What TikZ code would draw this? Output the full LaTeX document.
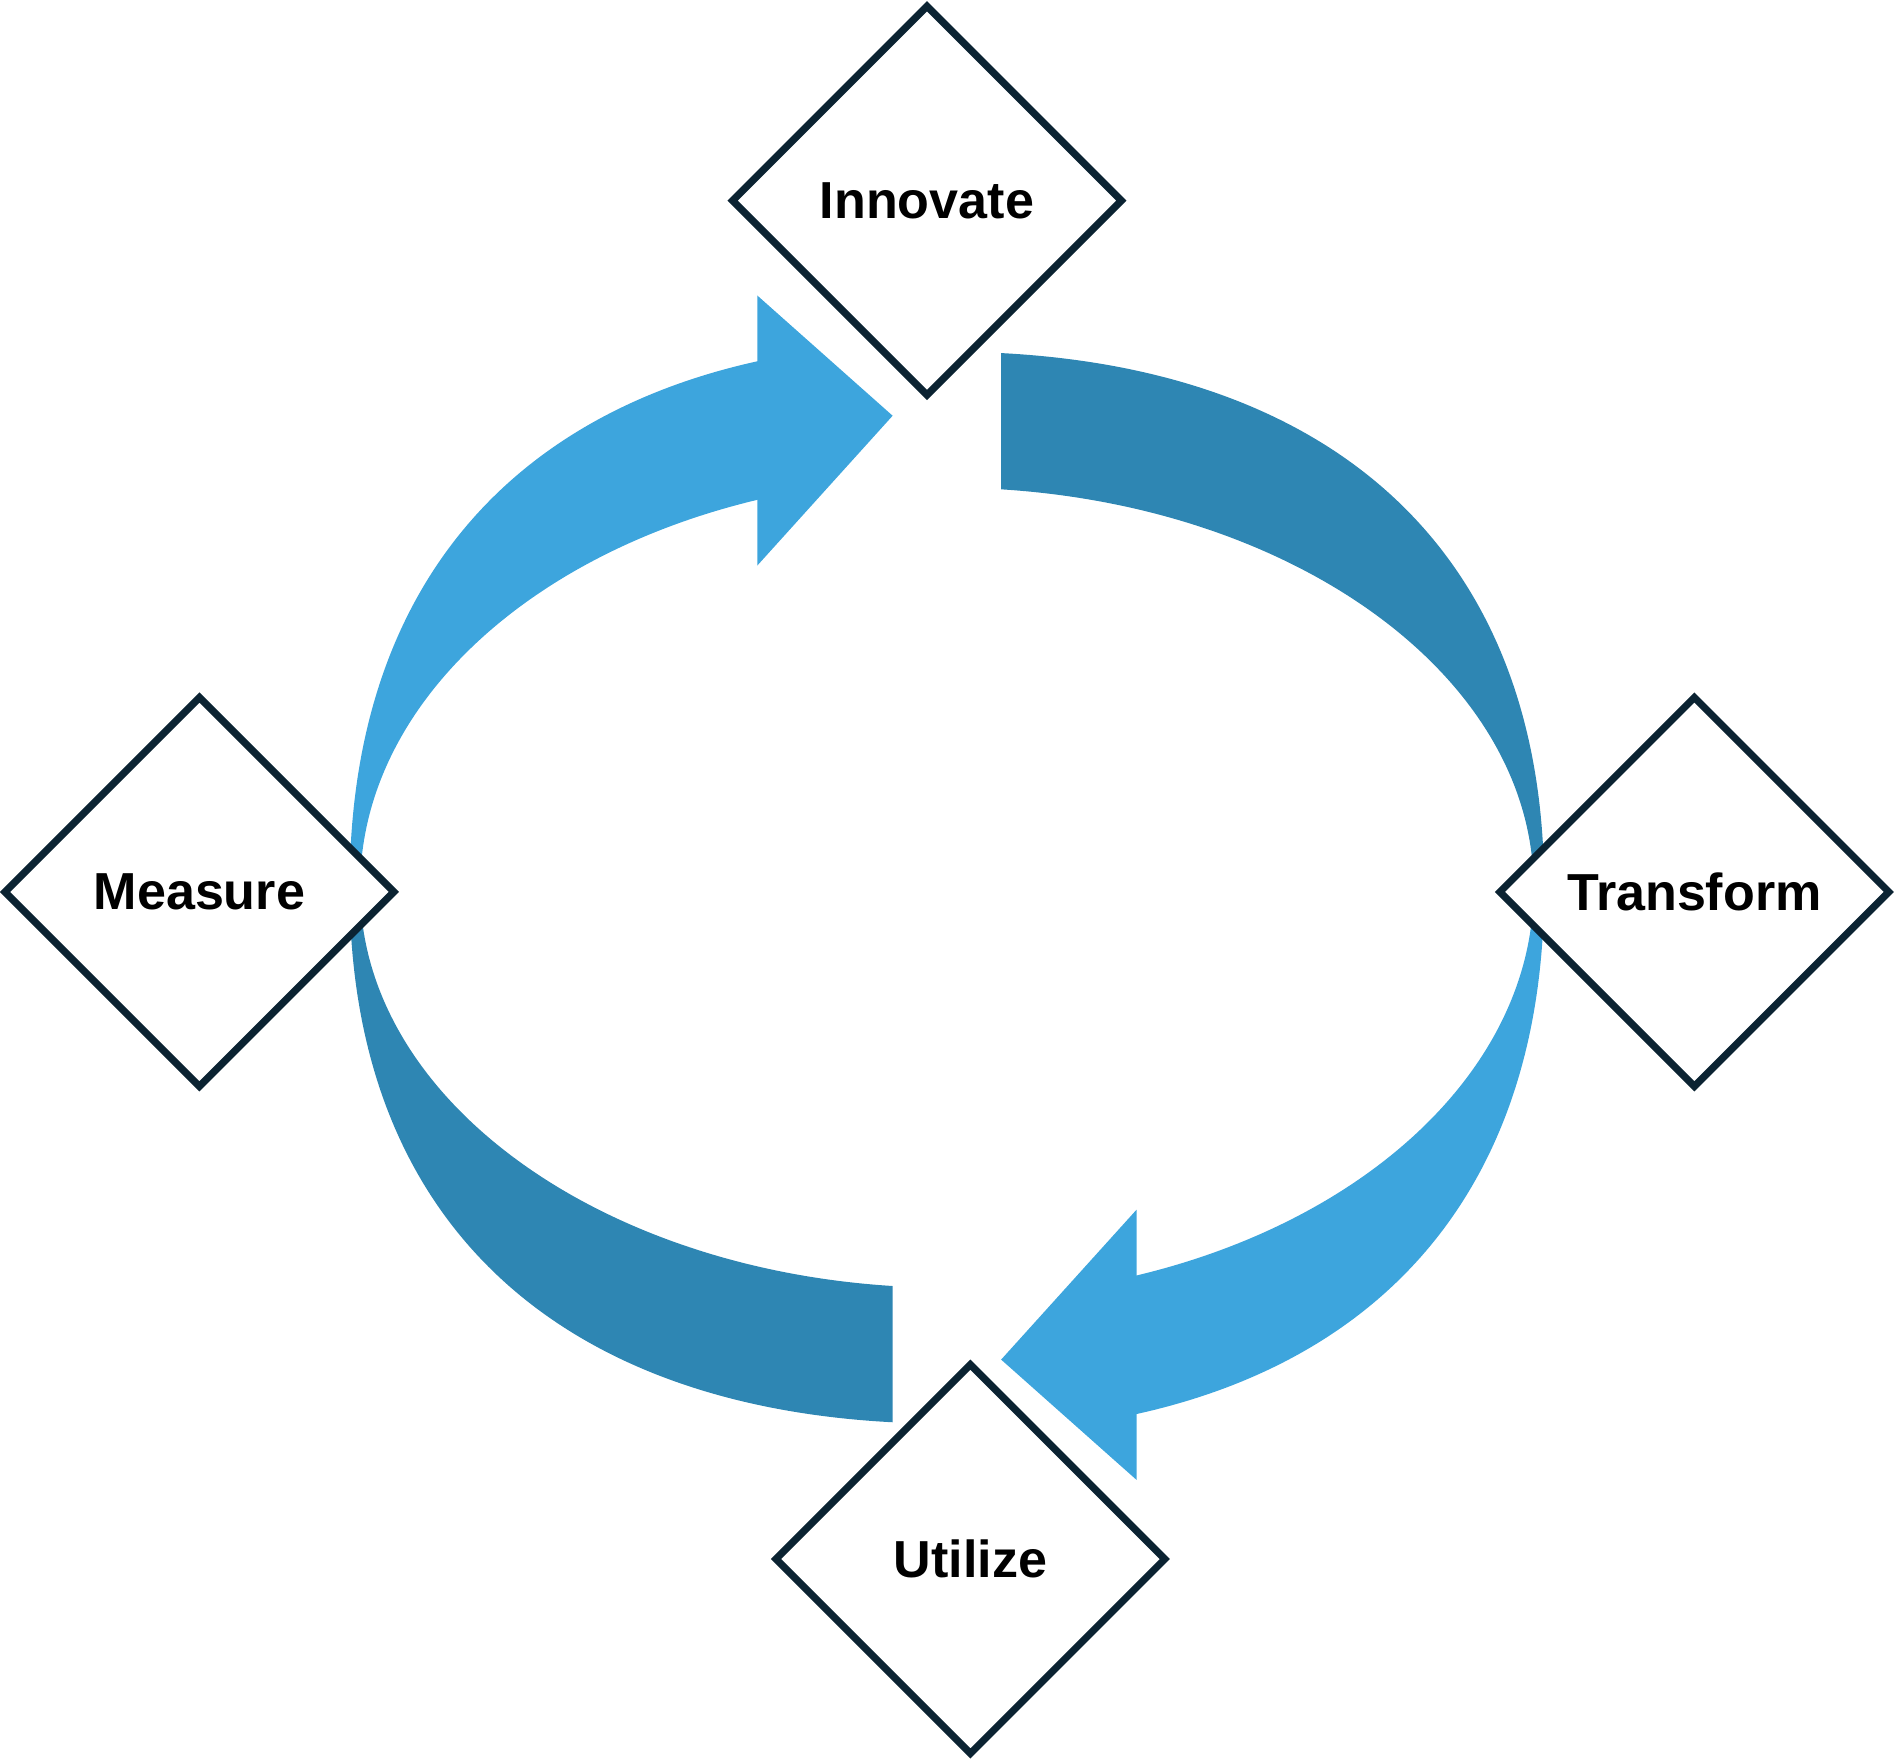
\documentclass[tikz,border=0pt]{standalone}
\usepackage{fontspec}
\setmainfont{Liberation Sans}
\usetikzlibrary{shapes.geometric}
\definecolor{lightarc}{HTML}{3DA5DD}
\definecolor{darkarc}{HTML}{2E86B3}
\definecolor{edgecol}{HTML}{0B2332}
\begin{document}
\begin{tikzpicture}[x=0.01cm,y=0.01cm,
  stage/.style={shape=diamond, draw=edgecol, line width=1.7pt, fill=white,
    minimum width=3.24cm, minimum height=3.24cm, inner sep=0pt, aspect=1,
    font=\fontsize{12.25}{14}\selectfont\bfseries, text=black}]
\useasboundingbox (-783.5,-722.5) rectangle (784.5,734.5);
% two arcs, drawn twice (second time rotated by 180 degrees)
\foreach \r in {0,180}{
\begin{scope}[rotate=\r]
  % dark arc (no head)
  \begin{scope}
    \clip (44.8,-20) rectangle (600,500);
    \fill[darkarc] (0,443.5) .. controls (306.4,443.5) and (494.2,288.3) .. (494.2,0)
      -- (485.5,0) .. controls (485.5,182.8) and (268.1,331) .. (0,331) -- cycle;
  \end{scope}
  % light arc with head
  \begin{scope}
    \clip (-600,-20) rectangle (-155.9,500);
    \fill[lightarc] (0,451.5) .. controls (-306.4,451.5) and (-494.2,293.5) .. (-494.2,0)
      -- (-485.5,0) .. controls (-485.5,187.2) and (-268.1,339) .. (0,339) -- cycle;
  \end{scope}
  \fill[lightarc] (-156.9,490) -- (-44.9,390.5) -- (-156.9,266.5) -- cycle;
\end{scope}
}
\node[stage] (innovate) at (-16.5,568.5) {Innovate};
\node[stage] (measure) at (-618.5,-3.5) {Measure};
\node[stage] (transform) at (618.5,-3.5) {Transform};
\node[stage] (utilize) at (19.5,-555.5) {Utilize};
\end{tikzpicture}
\end{document}
